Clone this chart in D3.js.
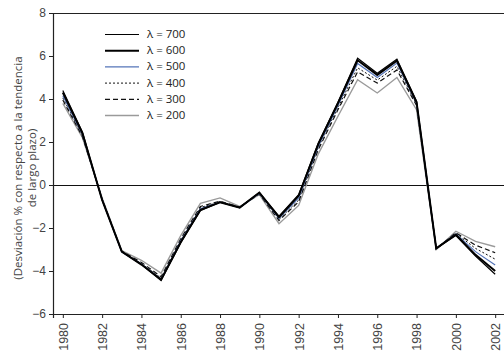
<!DOCTYPE html>
<html>
<head>
<meta charset="utf-8">
<script src="https://cdn.jsdelivr.net/npm/d3@7"></script>
<style>
  html, body { margin: 0; padding: 0; background: #fff; }
  svg { display: block; font-family: "Open Sans", "Noto Sans", sans-serif; }
</style>
</head>
<body>
<svg id="chart" width="504" height="355"></svg>
<script>
// Years of the series
const years = d3.range(1980, 2003);

// Deviation (%) from the long-run trend for each smoothing parameter λ
const lambda700 = [4.4, 2.45, -0.7, -3.1, -3.7, -4.45, -2.7, -1.2, -0.8, -1.05, -0.35, -1.45, -0.45, 1.95, 3.85, 5.9, 5.2, 5.85, 3.9, -2.95, -2.35, -3.3, -4.15];
const lambda600 = [4.3, 2.4, -0.7, -3.1, -3.7, -4.4, -2.65, -1.15, -0.8, -1.05, -0.35, -1.5, -0.5, 1.9, 3.8, 5.8, 5.12, 5.78, 3.85, -2.95, -2.3, -3.25, -4.0];
const lambda500 = [4.15, 2.35, -0.68, -3.12, -3.68, -4.38, -2.6, -1.1, -0.8, -1.05, -0.38, -1.55, -0.6, 1.8, 3.7, 5.65, 5.0, 5.67, 3.8, -2.95, -2.28, -3.1, -3.72];
const lambda400 = [4.05, 2.3, -0.66, -3.1, -3.65, -4.33, -2.55, -1.05, -0.78, -1.05, -0.4, -1.6, -0.7, 1.75, 3.6, 5.45, 4.88, 5.52, 3.75, -2.95, -2.25, -2.95, -3.45];
const lambda300 = [3.95, 2.25, -0.65, -3.08, -3.6, -4.27, -2.5, -1.0, -0.75, -1.03, -0.42, -1.65, -0.78, 1.65, 3.5, 5.26, 4.74, 5.35, 3.7, -2.97, -2.22, -2.8, -3.15];
const lambda200 = [3.8, 2.2, -0.6, -3.05, -3.5, -4.1, -2.35, -0.85, -0.6, -1.0, -0.45, -1.8, -0.95, 1.45, 3.2, 4.9, 4.28, 5.0, 3.5, -3.0, -2.15, -2.62, -2.87];

const seriesLabels = ["λ = 700", "λ = 600", "λ = 500", "λ = 400", "λ = 300", "λ = 200"];
const xTickValues = d3.range(1980, 2003, 2);
const yTickValues = [-6, -4, -2, 0, 2, 4, 6, 8];

// Line styles per series
const styles = [
  { color: "#000", width: 1.2, dash: null },
  { color: "#000", width: 2, dash: null },
  { color: "#5574b8", width: 1.2, dash: null },
  { color: "#111", width: 1, dash: "2,2" },
  { color: "#111", width: 1.2, dash: "5,3" },
  { color: "#9a9a9a", width: 1.4, dash: null }
];

const seriesValues = [lambda700, lambda600, lambda500, lambda400, lambda300, lambda200];
const series = seriesLabels.map((label, i) => ({
  label,
  style: styles[i],
  points: years.map((yr, j) => ({ year: yr, value: seriesValues[i][j] }))
}));

const svg = d3.select("#chart");
const plotLeft = 53, plotRight = 505, plotTop = 13, plotBottom = 314;

const x = d3.scaleLinear().domain([1979.5, 2002.5]).range([plotLeft, plotRight]);
const y = d3.scaleLinear().domain([-6, 8]).range([plotBottom, plotTop]);

// Top frame line
svg.append("line")
  .attr("x1", plotLeft).attr("x2", plotRight)
  .attr("y1", plotTop + 0.5).attr("y2", plotTop + 0.5)
  .attr("stroke", "#222").attr("stroke-width", 1.2);

// Zero reference line
svg.append("line")
  .attr("x1", plotLeft).attr("x2", plotRight)
  .attr("y1", Math.round(y(0)) + 0.5).attr("y2", Math.round(y(0)) + 0.5)
  .attr("stroke", "#111").attr("stroke-width", 1);

// Y axis
const yAxis = svg.append("g")
  .attr("transform", `translate(${plotLeft},0)`)
  .call(d3.axisLeft(y).tickValues(yTickValues).tickSize(4).tickPadding(3).tickFormat(d3.format("d")));
yAxis.select(".domain").attr("stroke", "#222").attr("stroke-width", 1.2);
yAxis.selectAll(".tick line").attr("stroke", "#222");
yAxis.selectAll("text").attr("font-size", 12).attr("fill", "#444");

// X axis
const xAxis = svg.append("g")
  .attr("transform", `translate(0,${plotBottom})`)
  .call(d3.axisBottom(x).tickValues(xTickValues).tickSize(4).tickFormat(d3.format("d")));
xAxis.select(".domain").attr("stroke", "#222").attr("stroke-width", 1.2);
xAxis.selectAll(".tick line").attr("stroke", "#222");
xAxis.selectAll("text")
  .attr("font-size", 12.5).attr("fill", "#444")
  .attr("text-anchor", "end")
  .attr("dy", "0.35em")
  .attr("transform", "translate(0,9) rotate(-90)")
  .attr("x", 0).attr("y", 0);

// Y axis title (two lines, rotated)
const yTitle = svg.append("text")
  .attr("transform", "translate(18,168) rotate(-90)")
  .attr("text-anchor", "middle")
  .attr("font-size", 11.5).attr("fill", "#444");
yTitle.append("tspan").attr("x", 0).attr("dy", "0.35em").text("(Desviación % con respecto a la tendencia");
yTitle.append("tspan").attr("x", 0).attr("dy", "1.2em").text("de largo plazo)");

// Series lines (grey first so darker lines sit on top)
const line = d3.line().x(d => x(d.year)).y(d => y(d.value));
svg.append("g").selectAll("path")
  .data(series.slice().reverse())
  .join("path")
  .attr("d", d => line(d.points))
  .attr("fill", "none")
  .attr("stroke", d => d.style.color)
  .attr("stroke-width", d => d.style.width)
  .attr("stroke-dasharray", d => d.style.dash)
  .attr("stroke-linejoin", "miter");

// Legend
const legend = svg.append("g").attr("transform", "translate(105,34)");
const rows = legend.selectAll("g").data(series).join("g")
  .attr("transform", (d, i) => `translate(0,${i * 16.2})`);
rows.append("line")
  .attr("x1", 0).attr("x2", 34).attr("y1", 0.5).attr("y2", 0.5)
  .attr("stroke", d => d.style.color)
  .attr("stroke-width", d => d.style.width)
  .attr("stroke-dasharray", d => d.style.dash);
rows.append("text")
  .attr("x", 42).attr("y", 0).attr("dy", "0.35em")
  .attr("font-size", 11.5).attr("fill", "#222")
  .text(d => d.label);
</script>
</body>
</html>
